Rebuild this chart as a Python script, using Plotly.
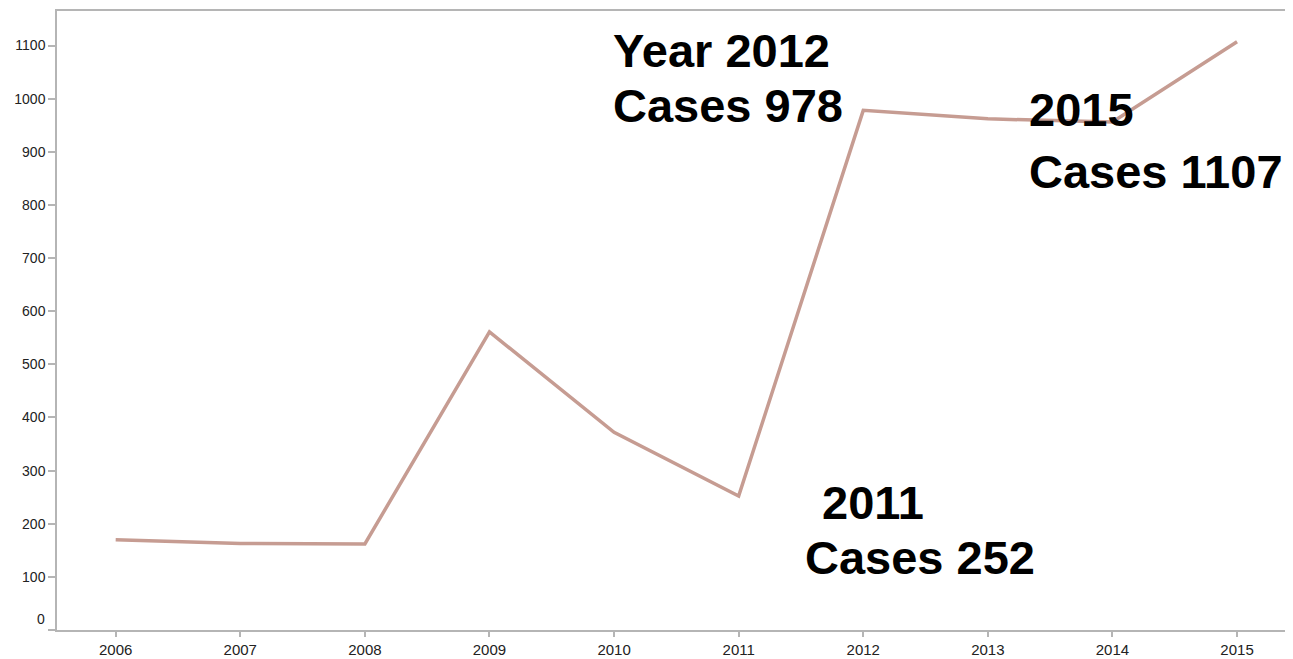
import plotly.graph_objects as go

years = [2006, 2007, 2008, 2009, 2010, 2011, 2012, 2013, 2014, 2015]
cases = [170, 163, 162, 561, 372, 252, 978, 962, 956, 1107]
y_ticks = [0, 100, 200, 300, 400, 500, 600, 700, 800, 900, 1000, 1100]

label_texts = ["Year 2012", "Cases 978", "2015", "Cases 1107", "2011", "Cases 252"]

OFF = 8  # page body margin in the browser
W, H = 1293 - OFF, 659 - OFF
L, R, T, B = 57 - OFF, 3, 9 - OFF, 26
PW, PH = W - L - R, H - T - B

def px(x):
    return (x - OFF - L) / PW

def py(y):
    return (H - B - (y - OFF)) / PH

# pixel positions (left edge, vertical middle of caps) for each label line
label_pos = [(611, 49), (611, 104), (1027, 108), (1027, 171), (820, 504), (803, 560)]

fig = go.Figure()
fig.add_trace(go.Scatter(
    x=years, y=cases, mode="lines",
    line=dict(color="#c69c92", width=3.5),
    hoverinfo="x+y", showlegend=False,
))

annotations = []
for t, (ax, ay) in zip(label_texts, label_pos):
    annotations.append(dict(
        text="<b>" + t + "</b>", x=px(ax), y=py(ay), xref="paper", yref="paper",
        xanchor="left", yanchor="middle", showarrow=False,
        font=dict(family="Liberation Sans, Arial, sans-serif", size=47, color="#000"),
    ))

# the zero label of the y axis sits a little above its tick in the reference
annotations.append(dict(
    text=str(y_ticks[0]), x=px(47), y=py(622), xref="paper", yref="paper",
    xanchor="right", yanchor="middle", showarrow=False,
    font=dict(family="Liberation Sans, Arial, sans-serif", size=14, color="#222"),
))

fig.update_layout(
    width=W, height=H,
    margin=dict(l=L, r=R, t=T, b=B, pad=0),
    paper_bgcolor="white", plot_bgcolor="white",
    font=dict(family="Liberation Sans, Arial, sans-serif", color="#222"),
    annotations=annotations,
    shapes=[dict(type="line", xref="paper", yref="paper", x0=-7 / PW, x1=0, y0=0, y1=0,
                 line=dict(color="#b5b5b5", width=1.5))],
    xaxis=dict(
        range=[2005.529, 2015.425], tickmode="array", tickvals=years,
        ticktext=[str(y) for y in years],
        showgrid=False, zeroline=False, showline=True, linecolor="#b5b5b5", linewidth=1.5,
        mirror=True, ticks="outside", ticklen=5, tickcolor="#b5b5b5", tickwidth=1.5,
        tickfont=dict(size=15, color="#222"),
    ),
    yaxis=dict(
        range=[0, 1165], tickmode="array", tickvals=y_ticks,
        ticktext=[""] + [str(v) for v in y_ticks[1:]],
        showgrid=False, zeroline=False, showline=True, linecolor="#b5b5b5", linewidth=1.5,
        ticks="outside", ticklen=7, tickcolor="#b5b5b5", tickwidth=1.5,
        tickfont=dict(size=14, color="#222"),
    ),
)

fig.write_html("out.html")
